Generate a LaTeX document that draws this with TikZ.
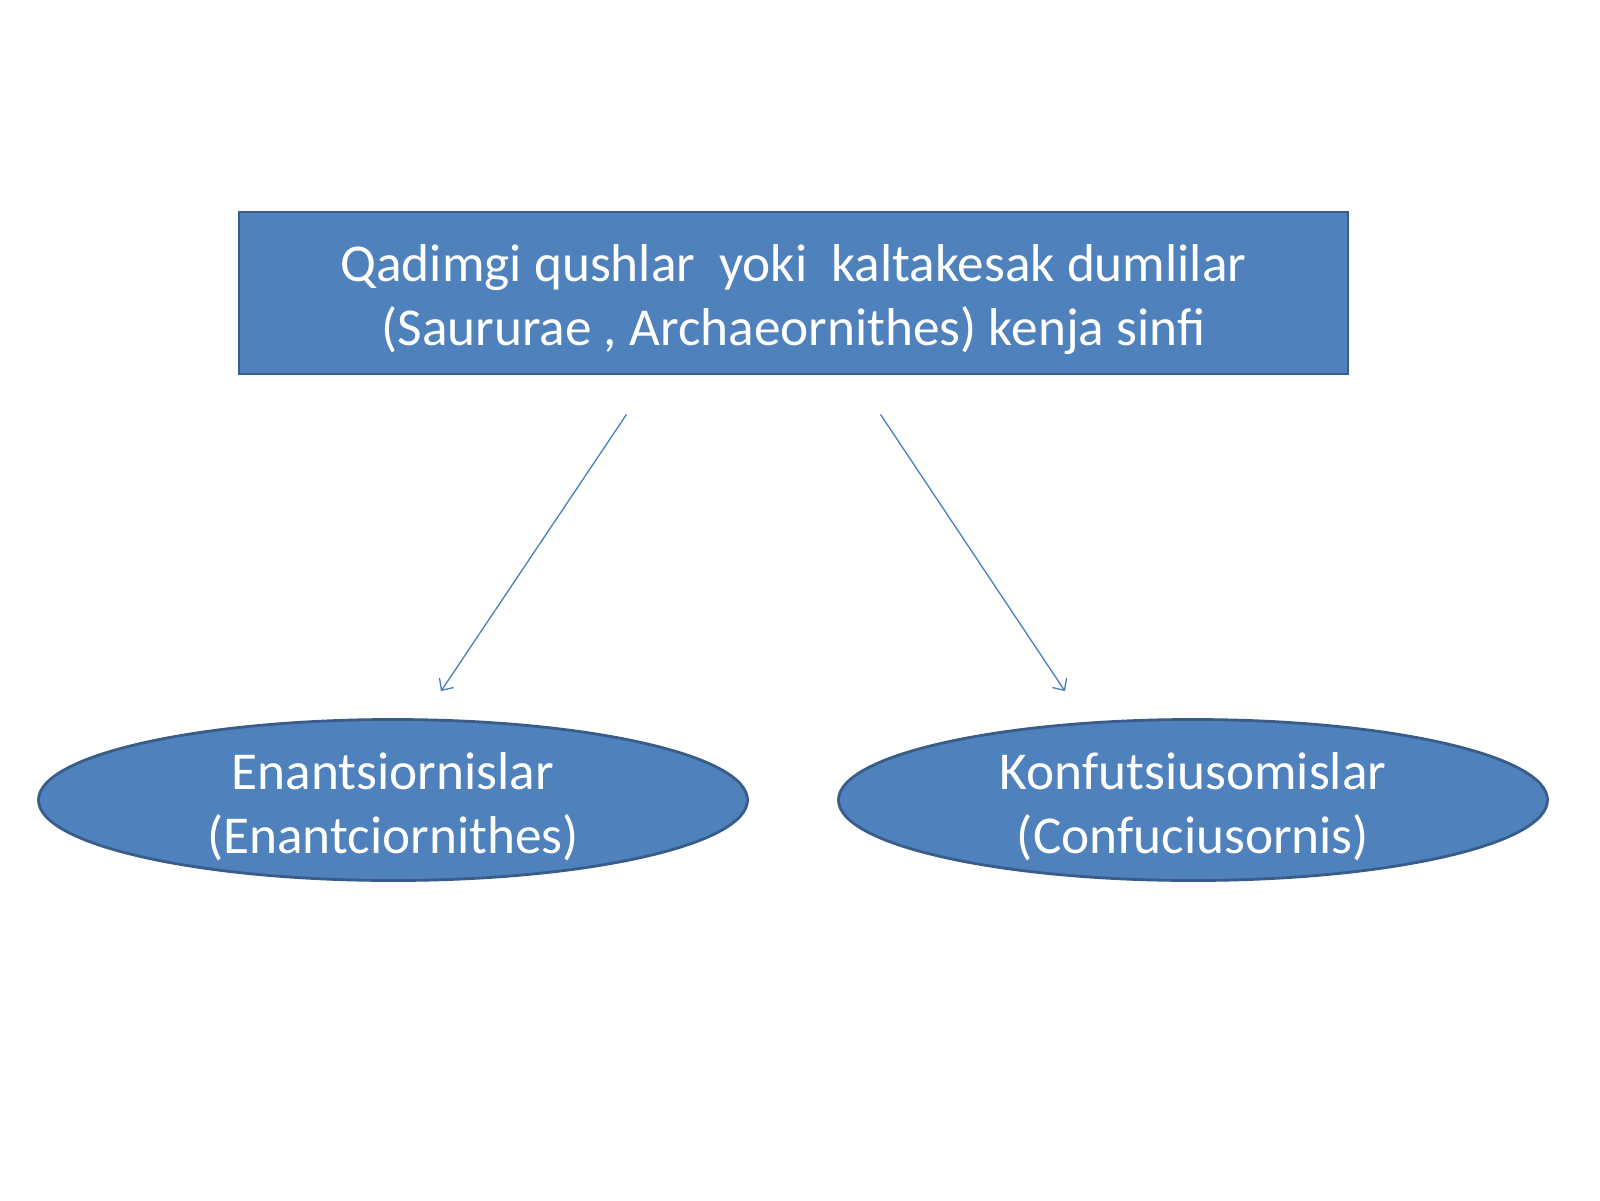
\documentclass[tikz,border=0pt]{standalone}
\usepackage{fontspec}
\setmainfont{Carlito}
\usetikzlibrary{shapes.geometric,arrows.meta}
\definecolor{ofill}{HTML}{4F81BD}
\definecolor{oline}{HTML}{385D8A}
\definecolor{arrcol}{HTML}{4A7EBB}
\tikzset{
  topbox/.style={draw=oline, line width=2.8pt, fill=ofill, minimum width=1109pt, minimum height=162pt, inner sep=0pt},
  oval/.style={ellipse, draw=oline, line width=2.8pt, fill=ofill, minimum width=709pt, minimum height=161pt, inner sep=0pt},
  lbl/.style={text=white, align=center, inner sep=0pt, font=\fontsize{53.3}{64}\selectfont},
  arr/.style={draw=arrcol, line width=1.3pt, -{Straight Barb[length=9pt,width=17pt,line width=1.3pt]}}
}
\begin{document}
\begin{tikzpicture}[x=1pt,y=-1pt]
\useasboundingbox[fill=white] (0,0) rectangle (1600,1200);
\node[topbox] (top) at (793.5,293) {};
\node[lbl] (toptext) at ([yshift=-7pt]top.center) {Qadimgi qushlar\ \ yoki\ \ kaltakesak dumlilar\\(Saururae , Archaeornithes) kenja sinfi};
\node[oval] (left) at (393,800) {};
\node[lbl] (lefttext) at ([yshift=-7pt]left.center) {Enantsiornislar\\(Enantciornithes)};
\node[oval] (right) at (1193,800) {};
\node[lbl] (righttext) at ([yshift=-7pt]right.center) {Konfutsiusomislar\\(Confuciusornis)};
\draw[arr] ([xshift=-167pt,yshift=-39pt]top.south) -- ([xshift=48pt,yshift=27pt]left.north);
\draw[arr] ([xshift=87pt,yshift=-39pt]top.south) -- ([xshift=-128pt,yshift=27pt]right.north);
\end{tikzpicture}
\end{document}
